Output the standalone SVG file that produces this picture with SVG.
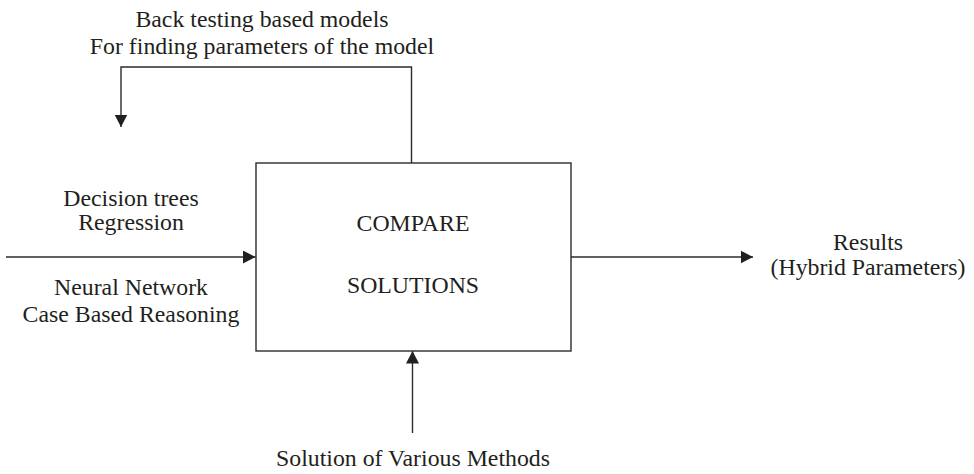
<svg xmlns="http://www.w3.org/2000/svg" width="974" height="474" viewBox="0 0 974 474">
<style>
text{font-family:"Liberation Serif","Times New Roman",serif;font-size:23.8px;fill:#231f20;text-anchor:middle}
.ln{stroke:#2b2b2b;stroke-width:1.4;fill:none}
</style>
<defs>
<marker id="ah" markerWidth="13" markerHeight="13" refX="12.5" refY="6.5" orient="auto" markerUnits="userSpaceOnUse" viewBox="0 0 13 13">
<path d="M0,0 L12.5,6.5 L0,13 z" fill="#231f20"/>
</marker>
</defs>
<g id="connectors">
<path class="ln" d="M411.5,163 V67 H121 V127" marker-end="url(#ah)"/>
<path class="ln" d="M6,257 H255.5" marker-end="url(#ah)"/>
<path class="ln" d="M571,257 H753" marker-end="url(#ah)"/>
<path class="ln" d="M412.5,433 V351" marker-end="url(#ah)"/>
</g>
<g id="compare">
<rect class="ln" x="256" y="163" width="315" height="188"/>
<text x="413" y="231">COMPARE</text>
<text x="413" y="293">SOLUTIONS</text>
</g>
<g id="backtesting">
<text x="262" y="27">Back testing based models</text>
<text x="262" y="54">For finding parameters of the model</text>
</g>
<g id="methods-top">
<text x="131" y="206">Decision trees</text>
<text x="131" y="230">Regression</text>
</g>
<g id="methods-bottom">
<text x="131" y="295">Neural Network</text>
<text x="131" y="322">Case Based Reasoning</text>
</g>
<g id="results">
<text x="868" y="250">Results</text>
<text x="868" y="275">(Hybrid Parameters)</text>
</g>
<g id="solution">
<text x="413" y="466">Solution of Various Methods</text>
</g>
</svg>
